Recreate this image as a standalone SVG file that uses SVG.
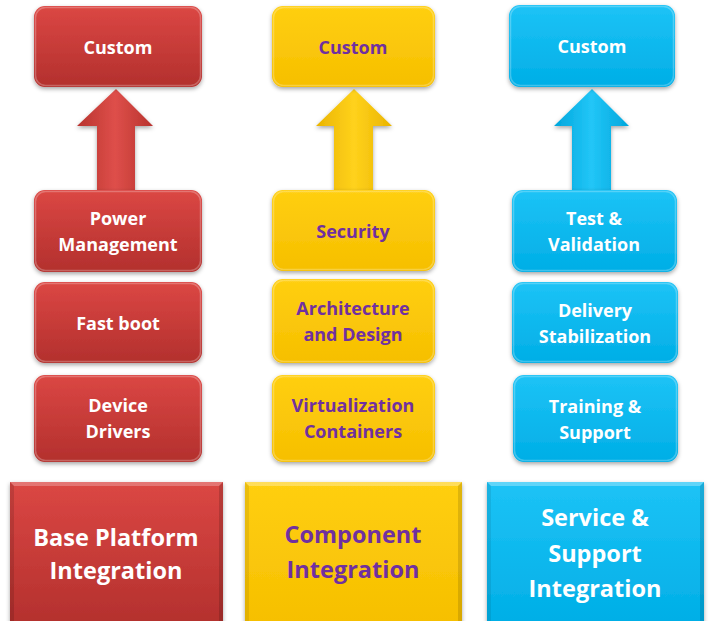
<svg xmlns="http://www.w3.org/2000/svg" width="712" height="621" viewBox="0 0 712 621">
<defs>
<linearGradient id="gRed" x1="0" y1="0" x2="0" y2="1"><stop offset="0" stop-color="#db4744"/><stop offset="1" stop-color="#b3302d"/></linearGradient>
<linearGradient id="gYel" x1="0" y1="0" x2="0" y2="1"><stop offset="0" stop-color="#ffcf12"/><stop offset="1" stop-color="#f6bf00"/></linearGradient>
<linearGradient id="gBlu" x1="0" y1="0" x2="0" y2="1"><stop offset="0" stop-color="#1dc3f6"/><stop offset="1" stop-color="#00aee6"/></linearGradient>
<linearGradient id="aRed" x1="0" y1="0" x2="1" y2="0"><stop offset="0" stop-color="#b8332f"/><stop offset="0.5" stop-color="#de4f4a"/><stop offset="1" stop-color="#b8332f"/></linearGradient>
<linearGradient id="aYel" x1="0" y1="0" x2="1" y2="0"><stop offset="0" stop-color="#eab400"/><stop offset="0.5" stop-color="#ffd21c"/><stop offset="1" stop-color="#eab400"/></linearGradient>
<linearGradient id="aBlu" x1="0" y1="0" x2="1" y2="0"><stop offset="0" stop-color="#00a6dc"/><stop offset="0.5" stop-color="#22c6f7"/><stop offset="1" stop-color="#00a6dc"/></linearGradient>
<filter id="sh" x="-10%" y="-10%" width="120%" height="130%"><feDropShadow dx="0" dy="2" stdDeviation="2" flood-color="#000" flood-opacity="0.35"/></filter>
</defs>
<style>
.t{font-family:"Open Sans","Liberation Sans",sans-serif;font-weight:bold;font-size:18px;text-anchor:middle}
.big{font-size:23.5px}
.w{fill:#ffffff}
.p{fill:#7030a0}
.hl{fill:none;stroke:#ffffff;stroke-opacity:0.25;stroke-width:1.5}
.red{fill:url(#gRed)}
.yel{fill:url(#gYel)}
.blu{fill:url(#gBlu)}
</style>
<rect width="712" height="621" fill="#ffffff"/>

<g id="connectors">
<polygon points="116,89 153,126 135,126 135,192 97,192 97,126 77,126" fill="url(#aRed)" filter="url(#sh)"/>
<polygon points="354,89 392,126 373,126 373,192 334,192 334,126 316,126" fill="url(#aYel)" filter="url(#sh)"/>
<polygon points="592,89 629,126 611,126 611,192 572,192 572,126 554,126" fill="url(#aBlu)" filter="url(#sh)"/>
</g>

<g id="red-custom"><rect class="red" x="34" y="6" width="168" height="81" rx="11" filter="url(#sh)"/><rect class="hl" x="35.5" y="7.5" width="165" height="78" rx="10"/><text class="t w" x="118" y="54">Custom</text></g>
<g id="red-power"><rect class="red" x="34" y="190" width="168" height="82" rx="11" filter="url(#sh)"/><rect class="hl" x="35.5" y="191.5" width="165" height="79" rx="10"/><text class="t w" x="118" y="225">Power</text><text class="t w" x="118" y="251">Management</text></g>
<g id="red-fastboot"><rect class="red" x="34" y="282" width="168" height="81" rx="11" filter="url(#sh)"/><rect class="hl" x="35.5" y="283.5" width="165" height="78" rx="10"/><text class="t w" x="118" y="330">Fast boot</text></g>
<g id="red-drivers"><rect class="red" x="34" y="375" width="168" height="87" rx="11" filter="url(#sh)"/><rect class="hl" x="35.5" y="376.5" width="165" height="84" rx="10"/><text class="t w" x="118" y="412">Device</text><text class="t w" x="118" y="438">Drivers</text></g>
<g id="red-base"><rect class="red" x="10" y="482" width="213" height="145" filter="url(#sh)"/><polygon points="10,482 223,482 219,486 14,486" fill="#ffffff" fill-opacity="0.25"/><polygon points="10,482 14,486 14,621 10,621" fill="#000" fill-opacity="0.12"/><polygon points="223,482 219,486 219,621 223,621" fill="#000" fill-opacity="0.15"/><text class="t w big" x="116" y="546">Base Platform</text><text class="t w big" x="116" y="579">Integration</text></g>

<g id="yel-custom"><rect class="yel" x="272" y="6" width="163" height="81" rx="11" filter="url(#sh)"/><rect class="hl" x="273.5" y="7.5" width="160" height="78" rx="10"/><text class="t p" x="353" y="54">Custom</text></g>
<g id="yel-security"><rect class="yel" x="272" y="190" width="163" height="81" rx="11" filter="url(#sh)"/><rect class="hl" x="273.5" y="191.5" width="160" height="78" rx="10"/><text class="t p" x="353" y="238">Security</text></g>
<g id="yel-arch"><rect class="yel" x="272" y="279" width="163" height="84" rx="11" filter="url(#sh)"/><rect class="hl" x="273.5" y="280.5" width="160" height="81" rx="10"/><text class="t p" x="353" y="315">Architecture</text><text class="t p" x="353" y="341">and Design</text></g>
<g id="yel-virt"><rect class="yel" x="272" y="375" width="163" height="87" rx="11" filter="url(#sh)"/><rect class="hl" x="273.5" y="376.5" width="160" height="84" rx="10"/><text class="t p" x="353" y="412">Virtualization</text><text class="t p" x="353" y="438">Containers</text></g>
<g id="yel-component"><rect class="yel" x="245" y="482" width="217" height="145" filter="url(#sh)"/><polygon points="245,482 462,482 458,486 249,486" fill="#ffffff" fill-opacity="0.3"/><polygon points="245,482 249,486 249,621 245,621" fill="#000" fill-opacity="0.08"/><polygon points="462,482 458,486 458,621 462,621" fill="#000" fill-opacity="0.12"/><text class="t p big" x="353" y="543">Component</text><text class="t p big" x="353" y="578">Integration</text></g>

<g id="blu-custom"><rect class="blu" x="509" y="5" width="166" height="82" rx="11" filter="url(#sh)"/><rect class="hl" x="510.5" y="6.5" width="163" height="79" rx="10"/><text class="t w" x="592" y="53">Custom</text></g>
<g id="blu-test"><rect class="blu" x="512" y="190" width="165" height="82" rx="11" filter="url(#sh)"/><rect class="hl" x="513.5" y="191.5" width="162" height="79" rx="10"/><text class="t w" x="594" y="225">Test &amp;</text><text class="t w" x="594" y="251">Validation</text></g>
<g id="blu-delivery"><rect class="blu" x="512" y="282" width="166" height="81" rx="11" filter="url(#sh)"/><rect class="hl" x="513.5" y="283.5" width="163" height="78" rx="10"/><text class="t w" x="595" y="317">Delivery</text><text class="t w" x="595" y="343">Stabilization</text></g>
<g id="blu-training"><rect class="blu" x="513" y="375" width="165" height="87" rx="11" filter="url(#sh)"/><rect class="hl" x="514.5" y="376.5" width="162" height="84" rx="10"/><text class="t w" x="595" y="413">Training &amp;</text><text class="t w" x="595" y="439">Support</text></g>
<g id="blu-service"><rect class="blu" x="487" y="482" width="217" height="145" filter="url(#sh)"/><polygon points="487,482 704,482 700,486 491,486" fill="#ffffff" fill-opacity="0.3"/><polygon points="487,482 491,486 491,621 487,621" fill="#000" fill-opacity="0.08"/><polygon points="704,482 700,486 700,621 704,621" fill="#000" fill-opacity="0.12"/><text class="t w big" x="595" y="526">Service &amp;</text><text class="t w big" x="595" y="562">Support</text><text class="t w big" x="595" y="597">Integration</text></g>
</svg>
